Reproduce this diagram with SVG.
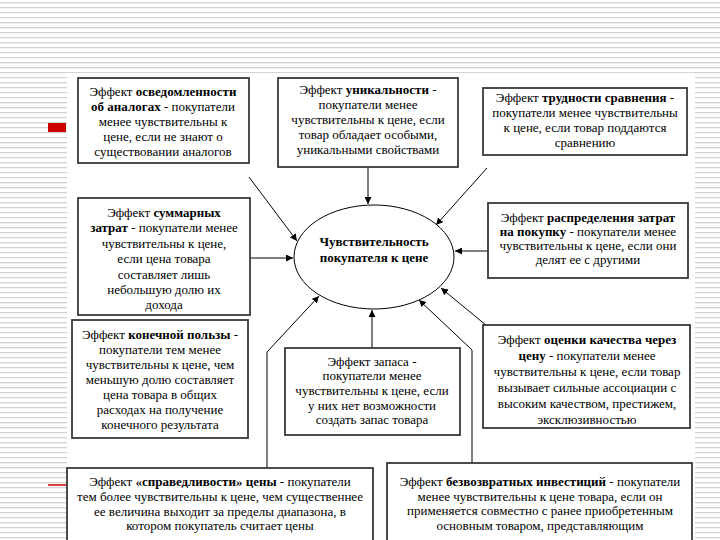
<svg xmlns="http://www.w3.org/2000/svg" width="720" height="540" viewBox="0 0 720 540">
<defs>
<pattern id="stripes" width="10" height="5" patternUnits="userSpaceOnUse">
<rect width="10" height="5" fill="#ffffff"/>
<rect y="2" width="10" height="1.3" fill="#d4d4d4"/>
</pattern>
<marker id="arr" viewBox="0 0 10 10" refX="10" refY="5" markerWidth="7" markerHeight="7" orient="auto" markerUnits="userSpaceOnUse">
<path d="M0,0 L10,5 L0,10 z" fill="#000"/>
</marker>
<style>
.box{fill:#fff;stroke:#3a3a3a;stroke-width:1.8}
.t{font-size:13px;fill:#000;text-anchor:middle}
.b{font-weight:bold}
.c{fill:none;stroke:#000;stroke-width:1;marker-end:url(#arr)}
</style>
</defs>
<rect width="720" height="540" fill="url(#stripes)"/>
<rect x="67" y="73" width="628" height="467" fill="#fff"/>
<rect x="48" y="123" width="18" height="9" fill="#cc0000"/>
<line x1="48" y1="485" x2="67" y2="485" stroke="#cc0000" stroke-width="1.5"/>

<g id="connectors">
<line class="c" x1="368" y1="167" x2="368" y2="204"/>
<line class="c" x1="249" y1="177" x2="297" y2="241"/>
<line class="c" x1="487" y1="168" x2="436" y2="225"/>
<line class="c" x1="250" y1="258" x2="293" y2="258"/>
<line class="c" x1="488" y1="251" x2="455" y2="251"/>
<polyline class="c" points="267,468 267,352 319,296"/>
<polyline class="c" points="472,463 472,350 419,300"/>
<line class="c" x1="487" y1="326" x2="441" y2="288"/>
<line class="c" x1="372" y1="348" x2="372" y2="310"/>
</g>

<g font-family="'Liberation Serif', 'Times New Roman', 'DejaVu Serif', serif">
<g id="center">
<ellipse cx="374" cy="257" rx="80" ry="52" fill="#fff" stroke="#000" stroke-width="1"/>
<text class="t b" x="374" y="246" font-size="13.5">Чувствительность</text>
<text class="t b" x="374" y="262" font-size="13.5">покупателя к цене</text>
</g>

<g id="n-awareness">
<rect class="box" x="78" y="78" width="171" height="85"/>
<text class="t" x="163" y="96">Эффект <tspan class="b">осведомленности</tspan></text>
<text class="t" x="163" y="111"><tspan class="b">об аналогах</tspan> - покупатели</text>
<text class="t" x="163" y="126">менее чувствительны к</text>
<text class="t" x="163" y="141">цене, если не знают о</text>
<text class="t" x="163" y="156">существовании аналогов</text>
</g>

<g id="n-uniqueness">
<rect class="box" x="278" y="78" width="180" height="89"/>
<text class="t" x="368" y="94">Эффект <tspan class="b">уникальности</tspan> -</text>
<text class="t" x="368" y="109">покупатели менее</text>
<text class="t" x="368" y="124">чувствительны к цене, если</text>
<text class="t" x="368" y="139">товар обладает особыми,</text>
<text class="t" x="368" y="154">уникальными свойствами</text>
</g>

<g id="n-comparison">
<rect class="box" x="483" y="88" width="204" height="67"/>
<text class="t" x="585" y="102">Эффект <tspan class="b">трудности сравнения</tspan> -</text>
<text class="t" x="585" y="117">покупатели менее чувствительны</text>
<text class="t" x="585" y="132">к цене, если товар поддаются</text>
<text class="t" x="585" y="147">сравнению</text>
</g>

<g id="n-total">
<rect class="box" x="78" y="198" width="172" height="117"/>
<text class="t" x="164" y="217">Эффект <tspan class="b">суммарных</tspan></text>
<text class="t" x="164" y="232"><tspan class="b">затрат</tspan> - покупатели менее</text>
<text class="t" x="164" y="248">чувствительны к цене,</text>
<text class="t" x="164" y="263">если цена товара</text>
<text class="t" x="164" y="279">составляет лишь</text>
<text class="t" x="164" y="294">небольшую долю их</text>
<text class="t" x="164" y="309">дохода</text>
</g>

<g id="n-shared">
<rect class="box" x="488" y="203" width="200" height="75"/>
<text class="t" x="588" y="222">Эффект <tspan class="b">распределения затрат</tspan></text>
<text class="t" x="588" y="236"><tspan class="b">на покупку</tspan> - покупатели менее</text>
<text class="t" x="588" y="250">чувствительны к цене, если они</text>
<text class="t" x="588" y="264">делят ее с другими</text>
</g>

<g id="n-enduse">
<rect class="box" x="72" y="320" width="176" height="118"/>
<text class="t" x="160" y="339">Эффект <tspan class="b">конечной пользы</tspan> -</text>
<text class="t" x="160" y="354">покупатели тем менее</text>
<text class="t" x="160" y="369">чувствительны к цене, чем</text>
<text class="t" x="160" y="384">меньшую долю составляет</text>
<text class="t" x="160" y="399">цена товара в общих</text>
<text class="t" x="160" y="414">расходах на получение</text>
<text class="t" x="160" y="429">конечного результата</text>
</g>

<g id="n-inventory">
<rect class="box" x="285" y="348" width="175" height="87"/>
<text class="t" x="372" y="366">Эффект запаса -</text>
<text class="t" x="372" y="380">покупатели менее</text>
<text class="t" x="372" y="395">чувствительны к цене, если</text>
<text class="t" x="372" y="410">у них нет возможности</text>
<text class="t" x="372" y="424">создать запас товара</text>
</g>

<g id="n-quality">
<rect class="box" x="483" y="325" width="207" height="103"/>
<text class="t" x="587" y="344">Эффект <tspan class="b">оценки качества через</tspan></text>
<text class="t" x="587" y="360"><tspan class="b">цену</tspan> - покупатели менее</text>
<text class="t" x="587" y="376">чувствительны к цене, если товар</text>
<text class="t" x="587" y="392">вызывает сильные ассоциации с</text>
<text class="t" x="587" y="408">высоким качеством, престижем,</text>
<text class="t" x="587" y="424">эксклюзивностью</text>
</g>

<g id="n-fairness">
<rect class="box" x="67" y="468" width="306" height="80"/>
<text class="t" x="220" y="486">Эффект <tspan class="b">«справедливости»  цены</tspan> - покупатели</text>
<text class="t" x="220" y="501">тем более чувствительны к цене, чем существеннее</text>
<text class="t" x="220" y="516">ее величина выходит за пределы диапазона, в</text>
<text class="t" x="220" y="530">котором покупатель считает цены</text>
</g>

<g id="n-sunk">
<rect class="box" x="387" y="463" width="305" height="85"/>
<text class="t" x="540" y="486">Эффект <tspan class="b">безвозвратных инвестиций</tspan> - покупатели</text>
<text class="t" x="540" y="501">менее чувствительны к цене товара, если он</text>
<text class="t" x="540" y="515">применяется совместно с ранее приобретенным</text>
<text class="t" x="540" y="530">основным товаром, представляющим</text>
</g>
</g>
</svg>
